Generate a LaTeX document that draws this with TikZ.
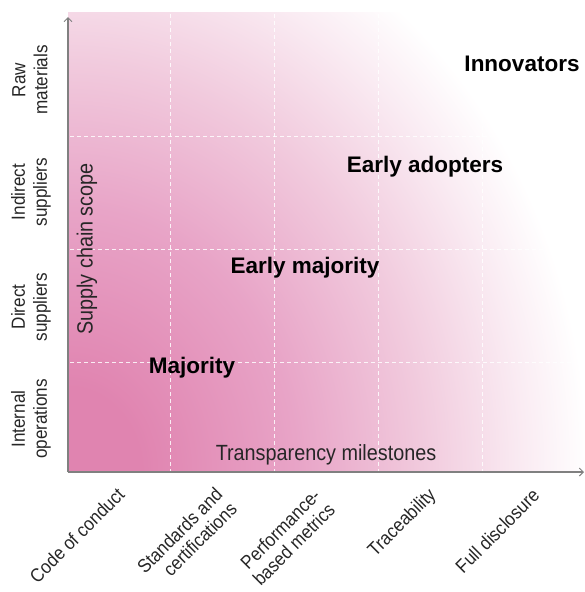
\documentclass[tikz,border=0pt]{standalone}
\usepackage{fontspec}
\setmainfont{Liberation Sans}
\newfontfamily\narrowfont{Liberation Sans}[FakeStretch=0.9]
\usetikzlibrary{arrows.meta}
\definecolor{pinkA}{RGB}{224,132,176}
\definecolor{pinkB}{RGB}{232,164,199}
\definecolor{pinkC}{RGB}{241,202,221}
\definecolor{pinkD}{RGB}{250,236,243}
\definecolor{axisgray}{RGB}{128,128,128}
\pgfdeclareradialshading{pinkfade}{\pgfpoint{0bp}{0bp}}{color(0bp)=(pinkA); color(3.5bp)=(pinkA); color(11bp)=(pinkB); color(17bp)=(pinkC); color(22bp)=(pinkD); color(25bp)=(white); color(50bp)=(white)}
\tikzset{
  gridline/.style={white, line width=0.8pt, dash pattern=on 4pt off 3pt, opacity=0.85},
  axisline/.style={axisgray, line width=1.3pt, -{Straight Barb[length=4pt,width=8pt,line width=1pt]}},
  biglabel/.style={inner sep=0pt, font=\fontsize{22.5}{26}\selectfont\bfseries, text=black},
  axistitle/.style={inner sep=0pt, font=\narrowfont\fontsize{22}{26}\selectfont, text=black!85},
  rowlabel/.style={inner sep=0pt, rotate=90, align=center, font=\narrowfont\fontsize{19}{22}\selectfont, text=black!85},
  ticklabel/.style={inner sep=0pt, rotate=45, anchor=north east, align=right, font=\narrowfont\fontsize{19}{20.5}\selectfont, text=black!85}
}
\begin{document}
\begin{tikzpicture}[x=1pt,y=-1pt]
\useasboundingbox (0,0) rectangle (585,592);
% gradient field
\begin{scope}
  \clip (68,12) rectangle (585,472);
  \shade[shading=pinkfade] (68,472) ellipse [x radius=520pt, y radius=600pt];
\end{scope}
% grid
\foreach \gx in {170,274,378,482} \draw[gridline] (\gx,14) -- (\gx,472);
\foreach \gy in {136,249,362} \draw[gridline] (70,\gy) -- (585,\gy);
% axes
\coordinate (O) at (68,472);
\coordinate (ytop) at (68,17);
\coordinate (xend) at (584,472);
\draw[axisline] (O) -- (ytop);
\draw[axisline] (O) -- (xend);
% adoption labels
\node[biglabel] (inno) at (522,64) {Innovators};
\node[biglabel] (eadopt) at (425,167) {Early adopters};
\node[biglabel] (emaj) at (305,268) {Early majority};
\node[biglabel] (maj) at (192,368) {Majority};
% axis titles
\node[axistitle] (xtitle) at (326,455) {Transparency milestones};
\node[axistitle, rotate=90] (ytitle) at (87,249) {Supply chain scope};
% row labels
\node[rowlabel] (raw) at (30,80) {Raw\\materials};
\node[rowlabel] (indirect) at (31,192) {Indirect\\suppliers};
\node[rowlabel] (direct) at (31,307) {Direct\\suppliers};
\node[rowlabel] (internal) at (31,419) {Internal\\operations};
% column labels
\node[ticklabel] (coc) at (116,486) {Code of conduct};
\node[ticklabel] (std) at (214,486) {Standards and\\certifications};
\node[ticklabel] (perf) at (312,487) {Performance-\\based metrics};
\node[ticklabel] (trace) at (427,486) {Traceability};
\node[ticklabel] (full) at (531,487) {Full disclosure};
\end{tikzpicture}
\end{document}
